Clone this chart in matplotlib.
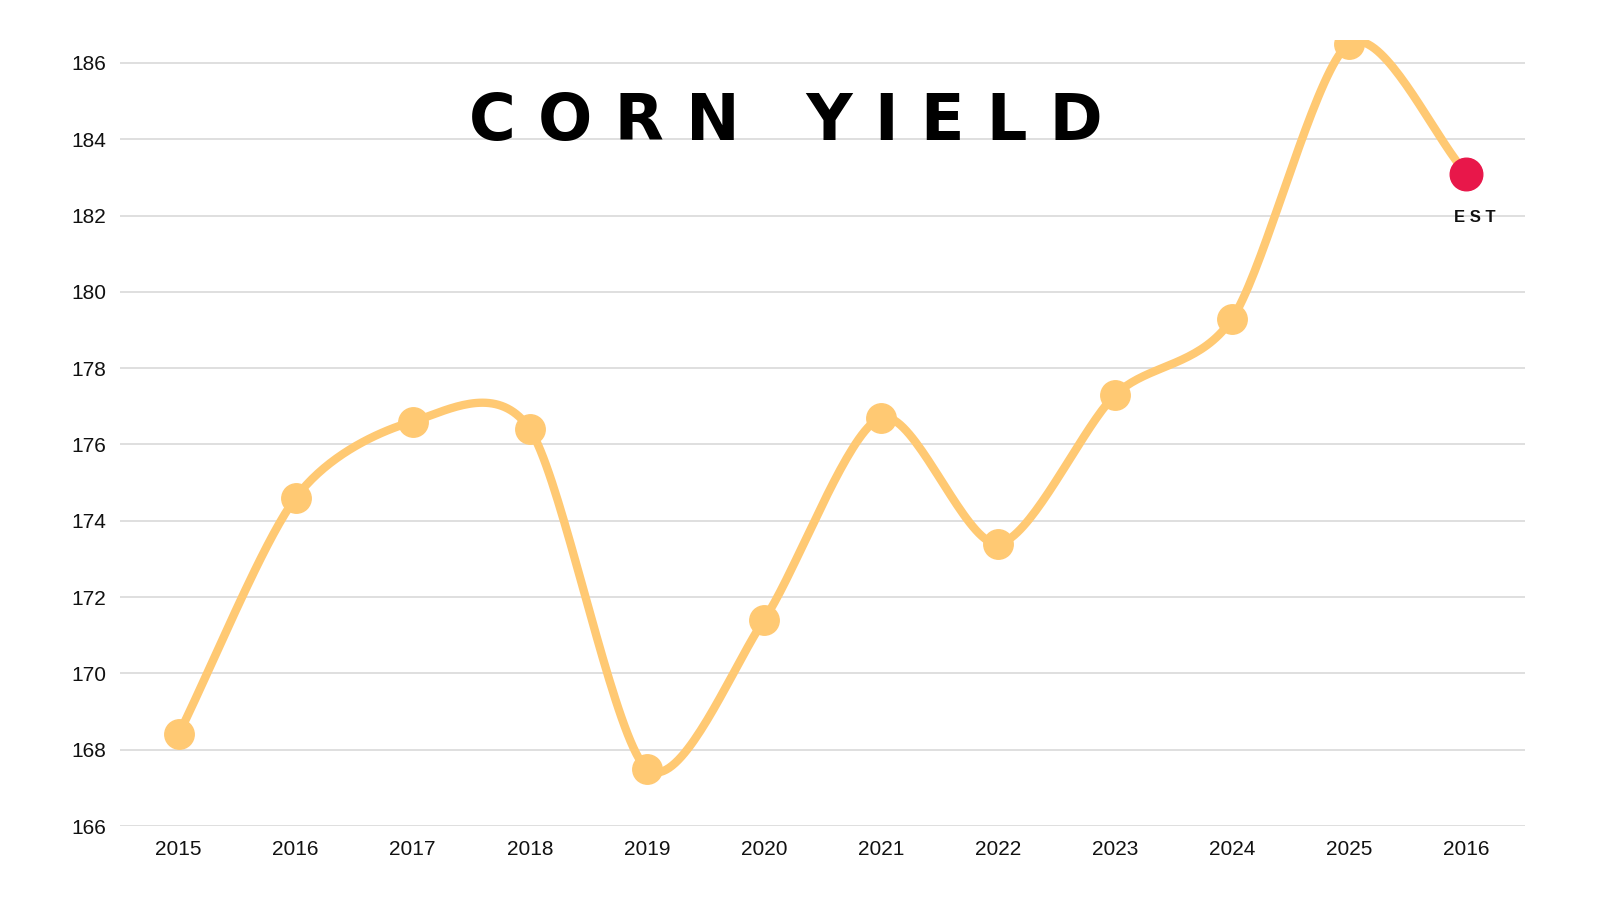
import numpy as np
import matplotlib
matplotlib.use("Agg")
import matplotlib.pyplot as plt

labels = ["2015","2016","2017","2018","2019","2020","2021","2022","2023","2024","2025","2016"]
values = [168.4,174.6,176.6,176.4,167.5,171.4,176.7,173.4,177.3,179.3,186.5,183.1]
yticks = [166,168,170,172,174,176,178,180,182,184,186]

def catmull(x, y, n=40, k=0.42):
    x = np.asarray(x, float); y = np.asarray(y, float)
    px = np.concatenate([[2*x[0]-x[1]], x, [2*x[-1]-x[-2]]])
    py = np.concatenate([[2*y[0]-y[1]], y, [2*y[-1]-y[-2]]])
    xs, ys = [], []
    t = np.linspace(0, 1, n)
    h00 = 2*t**3-3*t**2+1; h10 = t**3-2*t**2+t; h01 = -2*t**3+3*t**2; h11 = t**3-t**2
    for i in range(1, len(px)-2):
        for arr, out in ((px, xs), (py, ys)):
            p0, p1, p2, p3 = arr[i-1:i+3]
            m1 = k*(p2-p0); m2 = k*(p3-p1)
            out.extend(h00*p1 + h10*m1 + h01*p2 + h11*m2)
    return np.array(xs), np.array(ys)

plt.rcParams['font.family'] = ['Liberation Sans', 'DejaVu Sans']
fig = plt.figure(figsize=(16, 9), dpi=100)
ax = fig.add_axes([120/1600, 1-826/900, 1405/1600, (826-40)/900])
x = np.arange(len(values))
sx, sy = catmull(x, values)
ax.plot(sx, sy, color="#FFC973", lw=6, solid_capstyle="round", zorder=2)
ax.scatter(x[:-1], values[:-1], s=450, color="#FFC973", zorder=3)
ax.scatter(x[-1:], values[-1:], s=550, color="#E8174A", zorder=4)
ax.text(x[-1]+0.07, values[-1]-1.15, "E S T", ha="center", va="center", fontsize=12, fontweight="bold", color="#111")
ax.set_xlim(-0.5, 11.5)
ax.set_ylim(166, 186.6)
ax.set_yticks(yticks)
ax.set_xticks(x)
ax.set_xticklabels(labels)
ax.tick_params(length=0, labelsize=15, colors="#111", pad=10)
ax.grid(axis="y", color="#d9d9d9", lw=1.2)
ax.set_axisbelow(True)
for s in ax.spines.values():
    s.set_visible(False)
fig.text(786/1600, 1-122/900, "C O R N   Y I E L D", ha="center", va="center",
         fontsize=46, fontweight="bold", color="black",
         family=["Liberation Sans Narrow", "DejaVu Sans"])
fig.savefig("out.png", dpi=100)
